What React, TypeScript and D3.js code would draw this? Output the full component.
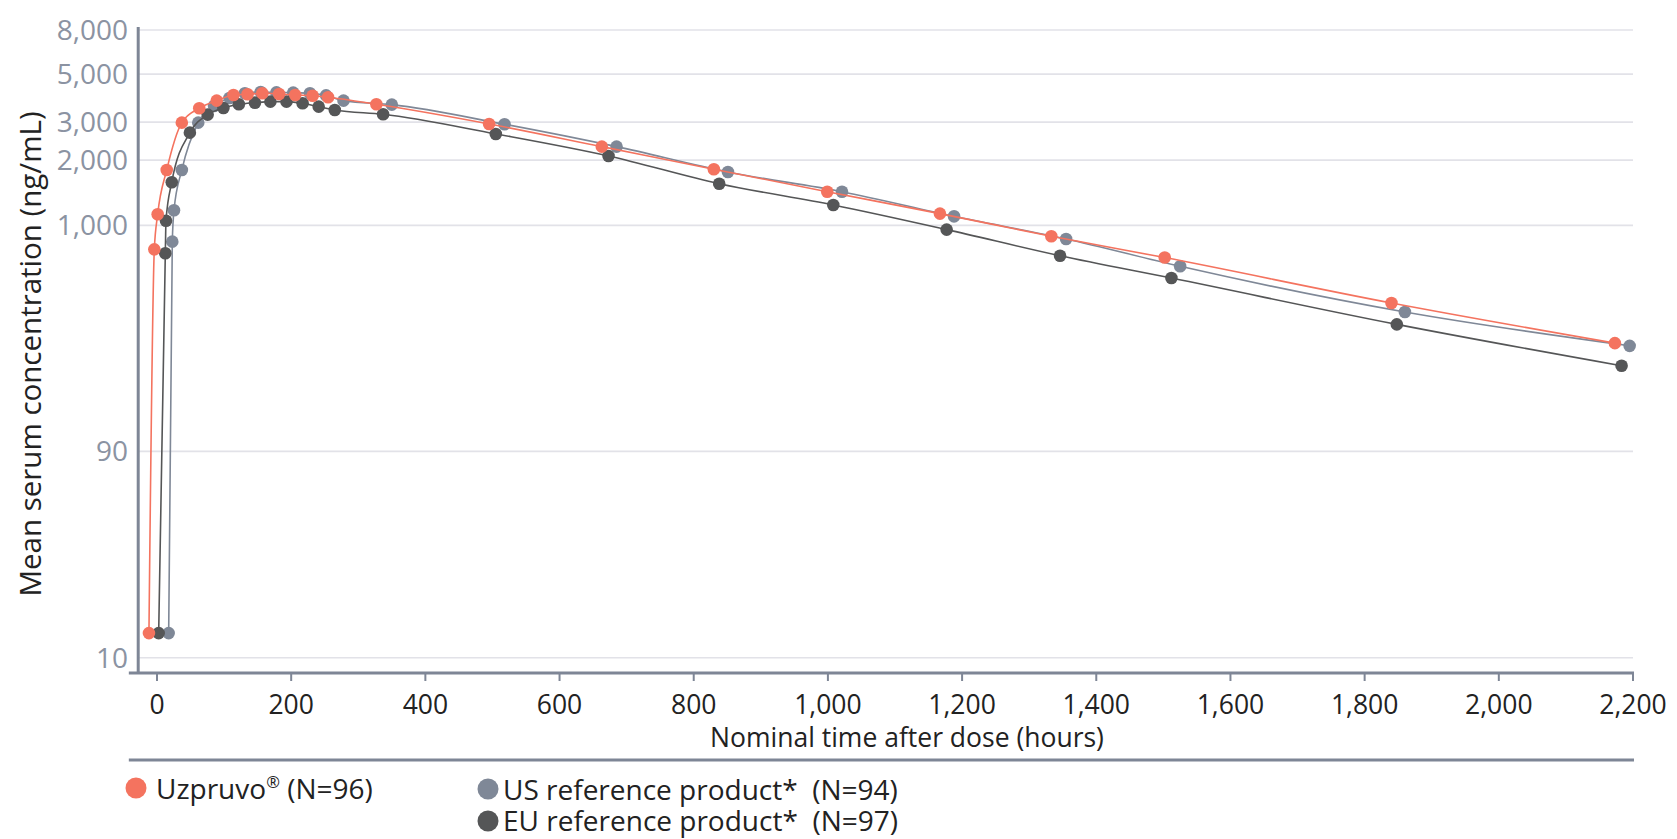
import * as d3 from "d3";

// (hours after dose, ng/mL)
const uzpruvoHours = [-12, -4, 1, 14.5, 37, 63, 89, 114, 135, 157, 182, 206, 232, 255, 327, 495, 663, 830, 999, 1167, 1333, 1502, 1840, 2173];
const uzpruvoConc = [13, 774, 1124, 1802, 2983, 3477, 3770, 4005, 4035, 4078, 4048, 4005, 3975, 3908, 3628, 2942, 2310, 1815, 1430, 1132, 890, 709, 437, 285];

const usHours = [17.4, 22.8, 25.3, 37, 61.5, 85, 108, 131, 154.5, 178, 203, 228, 252, 278, 350, 518, 685, 851, 1021, 1188, 1355, 1525, 1860, 2195];
const usConc = [13, 840, 1173, 1802, 2983, 3563, 3880, 4078, 4136, 4117, 4108, 4078, 3990, 3770, 3613, 2932, 2310, 1764, 1430, 1100, 864, 646, 397, 277];

const euHours = [2.5, 12.4, 13.4, 22, 49, 75.5, 99, 122, 146, 169, 193, 217, 241, 265, 337, 505, 673, 838, 1008, 1177, 1346, 1512, 1848, 2183];
const euConc = [13, 742, 1050, 1581, 2681, 3249, 3488, 3628, 3690, 3730, 3730, 3666, 3537, 3414, 3262, 2645, 2092, 1557, 1241, 955, 723, 570, 348, 224];

const yTicks = [10, 90, 1000, 2000, 3000, 5000, 8000];
const xTicks = [0, 200, 400, 600, 800, 1000, 1200, 1400, 1600, 1800, 2000, 2200];

const RED = "#f4735f";
const GREY = "#7f8897";
const DARK = "#555657";
const AXIS = "#7e8696";
const FONT = "'Open Sans', sans-serif";

const App = () => {
  const width = 1677;
  const height = 839;

  const x = d3.scaleLinear().domain([0, 2200]).range([157, 1633]);
  const y = d3.scaleLog().domain([8.5, 8260]).range([673, 27]);
  const fmt = d3.format(",");

  const line = d3
    .line<[number, number]>()
    .x((d) => x(d[0]))
    .y((d) => y(d[1]))
    .curve(d3.curveMonotoneX);

  // drawn bottom to top: US, EU, Uzpruvo
  const series = [
    { key: "us", hours: usHours, conc: usConc, color: GREY },
    { key: "eu", hours: euHours, conc: euConc, color: DARK },
    { key: "uz", hours: uzpruvoHours, conc: uzpruvoConc, color: RED },
  ];

  const axisY = 673;
  const xLeft = x(-42);
  const yAxisX = x(-28);

  return (
    <svg
      width={width}
      height={height}
      style={{ position: "absolute", left: 0, top: 0, display: "block", background: "#fff" }}
      fontFamily={FONT}
    >
      {/* gridlines */}
      {yTicks.map((t) => (
        <line key={"g" + t} x1={yAxisX} x2={x(2200)} y1={y(t)} y2={y(t)} stroke="#e2e2e8" strokeWidth={1.7} />
      ))}

      {/* y tick labels */}
      {yTicks.map((t) => (
        <text key={"yl" + t} x={128} y={y(t)} dy="0.35em" textAnchor="end" fontSize={28} fill="#8b93a2">
          {fmt(t)}
        </text>
      ))}

      {/* series */}
      {series.map((s) => {
        const pts: [number, number][] = s.hours.map((h, i) => [h, s.conc[i]]);
        return (
          <g key={s.key}>
            <path d={line(pts) || ""} fill="none" stroke={s.color} strokeWidth={1.6} />
            {pts.map((p, i) => (
              <circle key={i} cx={x(p[0])} cy={y(p[1])} r={6.3} fill={s.color} />
            ))}
          </g>
        );
      })}

      {/* axes */}
      <line x1={yAxisX} x2={yAxisX} y1={27} y2={axisY} stroke={AXIS} strokeWidth={3} />
      <line x1={xLeft} x2={x(2200) + 1} y1={axisY} y2={axisY} stroke={AXIS} strokeWidth={3} />
      {xTicks.map((t) => (
        <g key={"xt" + t}>
          <line x1={x(t)} x2={x(t)} y1={axisY} y2={axisY + 8} stroke={AXIS} strokeWidth={2} />
          <text x={x(t)} y={714} textAnchor="middle" fontSize={26.5} fill="#222">
            {fmt(t)}
          </text>
        </g>
      ))}

      <text x={907} y={747} textAnchor="middle" fontSize={26.5} fill="#222">
        Nominal time after dose (hours)
      </text>
      <text transform="translate(41,354) rotate(-90)" textAnchor="middle" fontSize={29.5} fill="#222">
        Mean serum concentration (ng/mL)
      </text>

      {/* legend */}
      <line x1={xLeft} x2={x(2200) + 1} y1={760} y2={760} stroke={AXIS} strokeWidth={3} />
      <circle cx={136} cy={788} r={10.5} fill={RED} />
      <text x={156} y={799} fontSize={28} fill="#222">
        Uzpruvo
        <tspan fontSize={16.5} dy={-11}>®</tspan>
        <tspan dy={11}> (N=96)</tspan>
      </text>
      <circle cx={488} cy={789} r={10.5} fill={GREY} />
      <text x={503} y={800} fontSize={28} fill="#222" style={{ whiteSpace: "pre" }}>
        {"US reference product*  (N=94)"}
      </text>
      <circle cx={488} cy={821} r={10.5} fill={DARK} />
      <text x={503} y={831} fontSize={28} fill="#222" style={{ whiteSpace: "pre" }}>
        {"EU reference product*  (N=97)"}
      </text>
    </svg>
  );
};

export default App;
